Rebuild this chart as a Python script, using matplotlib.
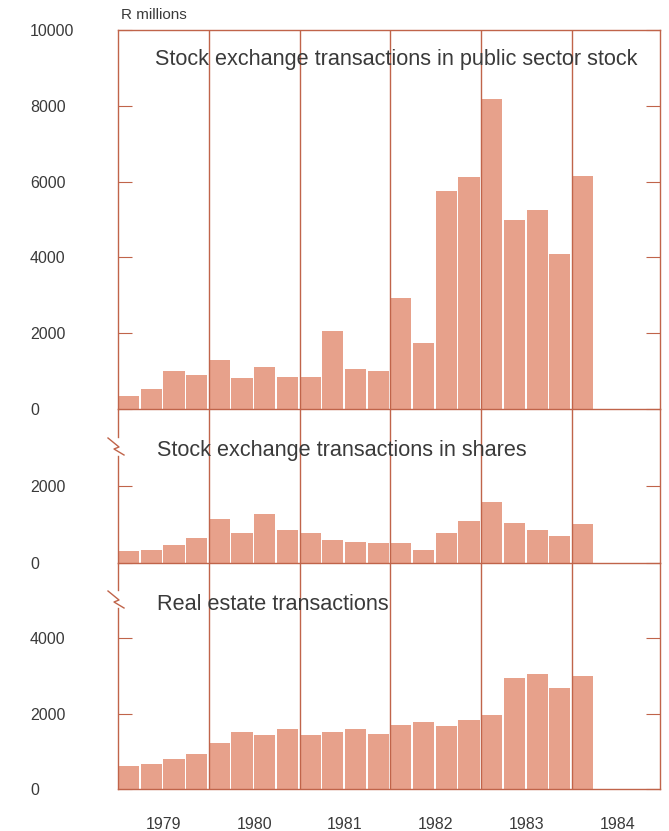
import matplotlib
matplotlib.use('Agg')
import matplotlib.pyplot as plt
from matplotlib.lines import Line2D
import numpy as np

# ---------------- data (R millions, quarterly from 1979 Q1) ----------------
year_labels = ['1979', '1980', '1981', '1982', '1983', '1984']
public_sector = [350, 530, 1000, 900, 1300, 820, 1100, 850, 850, 2050, 1050, 990,
                 2920, 1740, 5740, 6120, 8170, 4980, 5260, 4100, 6140]
shares = [310, 350, 470, 660, 1130, 770, 1280, 860, 770, 600, 550, 510,
          520, 340, 780, 1080, 1580, 1030, 860, 690, 1010]
real_estate = [600, 660, 790, 940, 1230, 1510, 1430, 1580, 1430, 1510, 1580, 1470,
               1710, 1770, 1670, 1840, 1970, 2940, 3040, 2680, 3010]
titles = ['Stock exchange transactions in public sector stock',
          'Stock exchange transactions in shares',
          'Real estate transactions']
ylims = [10000, 4000, 6000]
yticks = [[0, 2000, 4000, 6000, 8000, 10000], [0, 2000], [0, 2000, 4000]]
series = [public_sector, shares, real_estate]

# ---------------- style ----------------
W, H = 669, 831
BAR = '#E7A18B'
LINE = '#C0644A'
TXT = '#3a3a3a'
FONT = ['Liberation Sans', 'DejaVu Sans']
plt.rcParams['font.family'] = FONT

fig = plt.figure(figsize=(W / 100, H / 100), dpi=100)

LEFT, RIGHT = 118, 660
bounds = [(30, 409), (409, 563), (563, 789)]
x0 = 1979.0
xmax = 1984.97

def fx(px):
    return px / W

def fy(py):
    return 1 - py / H

axes = []
for i, (top, bot) in enumerate(bounds):
    ax = fig.add_axes([fx(LEFT), fy(bot), fx(RIGHT) - fx(LEFT), (bot - top) / H])
    ax.set_facecolor('none')
    vals = series[i]
    x = x0 + 0.25 * np.arange(len(vals))
    ax.bar(x, vals, width=0.25 * 0.93, align='edge', color=BAR, linewidth=0, zorder=2)
    for yr in range(1980, 1985):
        ax.axvline(yr, color=LINE, lw=1.0, zorder=3)
    ax.set_xlim(x0, xmax)
    ax.set_ylim(0, ylims[i])
    ax.set_yticks(yticks[i])
    ax.set_yticklabels([str(v) for v in yticks[i]], ha='left', color=TXT, fontsize=11.5)
    ax.tick_params(axis='y', direction='in', length=10, width=0.8, color=LINE,
                   pad=63.4, right=True, labelright=False)
    for sp in ['left', 'right', 'top', 'bottom']:
        ax.spines[sp].set_color(LINE)
        ax.spines[sp].set_linewidth(1.0)
        ax.spines[sp].set_zorder(4)
    ax.spines['left'].set_visible(i == 0)
    if i > 0:
        ax.spines['top'].set_visible(False)
    if i < 2:
        ax.set_xticks([])
    else:
        ax.set_xticks([int(y) + 0.5 for y in year_labels])
        ax.set_xticklabels(year_labels, color=TXT, fontsize=11.5)
        ax.tick_params(axis='x', length=0, pad=20)
    axes.append(ax)

# panel titles
title_pos = [(155, 60), (157, 450), (157, 605)]
for (px, py), t in zip(title_pos, titles):
    fig.text(fx(px), fy(py), t, fontsize=15.6, color=TXT, ha='left', va='center')

# units label
fig.text(fx(121), fy(15), 'R millions', fontsize=11, color=TXT, ha='left', va='center')

# left spines with break marks for lower two panels
def fig_line(xs, ys, **kw):
    fig.add_artist(Line2D([fx(v) for v in xs], [fy(v) for v in ys],
                          transform=fig.transFigure, color=LINE, lw=1.0, **kw))

fig_line([LEFT, LEFT], [409, 437])
fig_line([LEFT, LEFT], [456, 563])
fig_line([108, 119, 114, 124], [438, 447, 449, 455])
fig_line([LEFT, LEFT], [563, 590])
fig_line([LEFT, LEFT], [608, 789])
fig_line([108, 119, 114, 124], [591, 600, 602, 608])

fig.savefig('out.png', dpi=100)
